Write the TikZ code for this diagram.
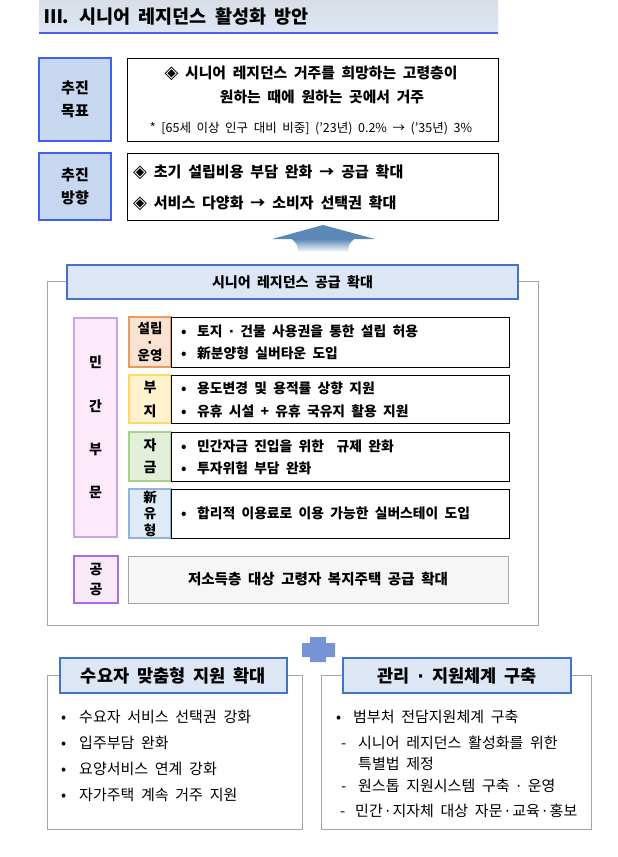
\documentclass[tikz,border=0pt]{standalone}
\usepackage{fontspec}
\setmainfont{Noto Sans CJK KR}[WordSpace=2]
\newfontfamily\symfont{DejaVu Sans}
\newcommand{\dia}{{\symfont\fontsize{18}{18}\selectfont ◈}}
\newcommand{\mdot}{{\symfont ·}}

\definecolor{goalfill}{HTML}{C6D7EF}
\definecolor{goaldraw}{HTML}{3F5FF0}
\definecolor{hdrfill}{HTML}{DCE6F5}
\definecolor{hdrdraw}{HTML}{4472C4}
\definecolor{privfill}{HTML}{FCEAFA}
\definecolor{privdraw}{HTML}{C9A4EA}
\definecolor{publfill}{HTML}{F8E8F8}
\definecolor{publdraw}{HTML}{A56EE6}
\definecolor{orgfill}{HTML}{FBE3D3}
\definecolor{orgdraw}{HTML}{EE9A5E}
\definecolor{yelfill}{HTML}{FFF2CC}
\definecolor{yeldraw}{HTML}{FFD966}
\definecolor{grnfill}{HTML}{E2F0D9}
\definecolor{grndraw}{HTML}{A9D18E}
\definecolor{blufill}{HTML}{DEEBF7}
\definecolor{bludraw}{HTML}{8FB4DE}
\definecolor{pubfill}{HTML}{F6F6F6}
\definecolor{framegray}{HTML}{A6A6A6}
\definecolor{arrowblue}{HTML}{5B88B6}
\definecolor{plusblue}{HTML}{3A66C4}
\definecolor{titleline}{HTML}{4F5BEA}
\definecolor{titletop}{HTML}{D9DEE6}

\begin{document}
\begin{tikzpicture}[
                x=1pt, y=-1pt,
                lbl/.style={draw=goaldraw, fill=goalfill, line width=1.2pt, align=center,
                    inner sep=0pt, font=\fontsize{15}{23}\selectfont\bfseries},
                goalbox/.style={draw=black, line width=1pt, inner sep=0pt},
                goaltxt/.style={inner sep=0pt, font=\fontsize{14.8}{18}\selectfont\bfseries},
                dirtxt/.style={anchor=west, inner sep=0pt, font=\fontsize{15}{18}\selectfont\bfseries},
                grayframe/.style={draw=framegray, line width=0.8pt},
                hdr/.style={draw=hdrdraw, fill=hdrfill, line width=1.2pt, inner sep=0pt},
                sublbl/.style={line width=1.2pt, minimum width=42pt, align=center, inner sep=0pt},
                subbox/.style={draw=black, line width=1pt, minimum width=338pt, inner sep=0pt},
                item/.style={anchor=west, inner sep=0pt, font=\fontsize{13.8}{16}\selectfont\bfseries},
                bitem/.style={anchor=west, inner sep=0pt, font=\fontsize{15}{18}\selectfont}
            ]
            \useasboundingbox (0,0) rectangle (618,857);

            % 제목
            \shade[top color=titletop, middle color=white, bottom color=hdrfill] (39,0) rectangle (498,33);
            \draw[titleline, line width=2pt] (39,33) -- (498,33);
            \node[anchor=west, inner sep=0pt, font=\fontsize{18.5}{22}\selectfont\bfseries] (title) at (44,17) {Ⅲ. 시니어 레지던스 활성화 방안};

            % 추진 목표
            \node[lbl, minimum width=72pt, minimum height=83pt] (goalL) at (75,99.5) {추진\\목표};
            \node[goalbox, minimum width=371pt, minimum height=83pt] (goal) at (312.5,99.5) {};
            \node[goaltxt] (g1) at (311,73) {\dia\ 시니어 레지던스 거주를 희망하는 고령층이};
            \node[goaltxt] (g2) at (322,97) {원하는 때에 원하는 곳에서 거주};
            \node[inner sep=0pt, font=\fontsize{12.5}{14}\selectfont] (g3) at (311,129) {* [65세 이상 인구 대비 비중] (’23년) 0.2\% → (’35년) 3\%};

            % 추진 방향
            \node[lbl, minimum width=72pt, minimum height=67pt] (dirL) at (75,186.5) {추진\\방향};
            \node[goalbox, minimum width=371pt, minimum height=67pt] (dir) at (312.5,186.5) {};
            \node[dirtxt] (d1) at (133,172) {\dia\ 초기 설립비용 부담 완화 → 공급 확대};
            \node[dirtxt] (d2) at (133,203) {\dia\ 서비스 다양화 → 소비자 선택권 확대};

            % 위쪽 화살표
            \fill[arrowblue] (272,239) -- (323,225) -- (375,239) -- cycle;
            \shade[top color=arrowblue, bottom color=white] (292,239) .. controls (297,244) .. (298,252) -- (348,252) .. controls (349,244) .. (354,239) -- cycle;

            % 공급 확대
            \draw[grayframe] (47,281) rectangle (538,625);
            \node[hdr, minimum width=451pt, minimum height=34pt, font=\fontsize{14}{16}\selectfont\bfseries] (supply) at (292.5,282) {시니어 레지던스 공급 확대};

            % 민간부문
            \node[draw=privdraw, fill=privfill, line width=1.2pt, minimum width=43pt, minimum height=219pt,
                align=center, inner sep=0pt, font=\fontsize{14}{43.3}\selectfont\bfseries] (priv) at (95.5,427.5) {민\\간\\부\\문};

            \node[sublbl, draw=orgdraw, fill=orgfill, minimum height=50pt, font=\fontsize{13.5}{13.5}\selectfont\bfseries] (siteL) at (150,342) {설립\\\mdot\\운영};
            \node[subbox, minimum height=50pt] (site) at (340,342) {};
            \node[item] (s1) at (181,331) {\makebox[16pt][l]{•}토지 \mdot\ 건물 사용권을 통한 설립 허용};
            \node[item] (s2) at (181,353) {\makebox[16pt][l]{•}新분양형 실버타운 도입};

            \node[sublbl, draw=yeldraw, fill=yelfill, minimum height=48pt, font=\fontsize{14}{24}\selectfont\bfseries] (landL) at (150,399) {부\\지};
            \node[subbox, minimum height=48pt] (land) at (340,399) {};
            \node[item] (l1) at (181,388) {\makebox[16pt][l]{•}용도변경 및 용적률 상향 지원};
            \node[item] (l2) at (181,411) {\makebox[16pt][l]{•}유휴 시설 + 유휴 국유지 활용 지원};

            \node[sublbl, draw=grndraw, fill=grnfill, minimum height=49pt, font=\fontsize{14}{22}\selectfont\bfseries] (fundL) at (150,456.5) {자\\금};
            \node[subbox, minimum height=49pt] (fund) at (340,456.5) {};
            \node[item] (f1) at (181,446) {\makebox[16pt][l]{•}민간자금 진입을 위한 \ 규제 완화};
            \node[item] (f2) at (181,468) {\makebox[16pt][l]{•}투자위험 부담 완화};

            \node[sublbl, draw=bludraw, fill=blufill, minimum height=49pt, font=\fontsize{13.5}{16.5}\selectfont\bfseries] (newL) at (150,513.5) {新\\유\\형};
            \node[subbox, minimum height=49pt] (new) at (340,513.5) {};
            \node[item] (n1) at (181,513.5) {\makebox[16pt][l]{•}합리적 이용료로 이용 가능한 실버스테이 도입};

            % 공공부문
            \node[draw=publdraw, fill=publfill, line width=1.4pt, minimum width=44pt, minimum height=47pt,
                align=center, inner sep=0pt, font=\fontsize{14}{20}\selectfont\bfseries] (publ) at (96,579.5) {공\\공};
            \node[draw=framegray, fill=pubfill, line width=1pt, minimum width=380pt, minimum height=47pt,
                inner sep=0pt, font=\fontsize{14.5}{18}\selectfont\bfseries] (pub) at (318,579.5) {저소득층 대상 고령자 복지주택 공급 확대};

            % 더하기
            \shade[top color=plusblue!70, middle color=plusblue, bottom color=plusblue!70]
                (302,643) -- (310,643) -- (310,637) -- (326,637) -- (326,643) -- (335,643) -- (335,657)
                -- (326,657) -- (326,662) -- (310,662) -- (310,657) -- (302,657) -- cycle;

            % 수요자 맞춤형 지원 확대
            \draw[grayframe] (47,675) rectangle (302,829);
            \node[hdr, minimum width=227pt, minimum height=35pt, font=\fontsize{17.5}{20}\selectfont\bfseries] (demand) at (173.5,675.5) {수요자 맞춤형 지원 확대};
            \node[bitem] (m1) at (61,717) {\makebox[18pt][l]{•}수요자 서비스 선택권 강화};
            \node[bitem] (m2) at (61,743) {\makebox[18pt][l]{•}입주부담 완화};
            \node[bitem] (m3) at (61,769) {\makebox[18pt][l]{•}요양서비스 연계 강화};
            \node[bitem] (m4) at (61,795) {\makebox[18pt][l]{•}자가주택 계속 거주 지원};

            % 관리 · 지원체계 구축
            \draw[grayframe] (321,675) rectangle (591,829);
            \node[hdr, minimum width=228pt, minimum height=35pt, font=\fontsize{17.5}{20}\selectfont\bfseries] (mgmt) at (457,675.5) {관리 \mdot\ 지원체계 구축};
            \node[bitem] (k1) at (336,717) {\makebox[17pt][l]{•}범부처 전담지원체계 구축};
            \node[bitem] (k2) at (341,743) {\makebox[17pt][l]{-}시니어 레지던스 활성화를 위한};
            \node[bitem] (k3) at (358,764) {특별법 제정};
            \node[bitem] (k4) at (341,786) {\makebox[17pt][l]{-}원스톱 지원시스템 구축 \mdot\ 운영};
            \node[bitem] (k5) at (340,811) {\makebox[15pt][l]{-}민간\,\mdot\,지자체 대상 자문\,\mdot\,교육\,\mdot\,홍보};
        \end{tikzpicture}
\end{document}
